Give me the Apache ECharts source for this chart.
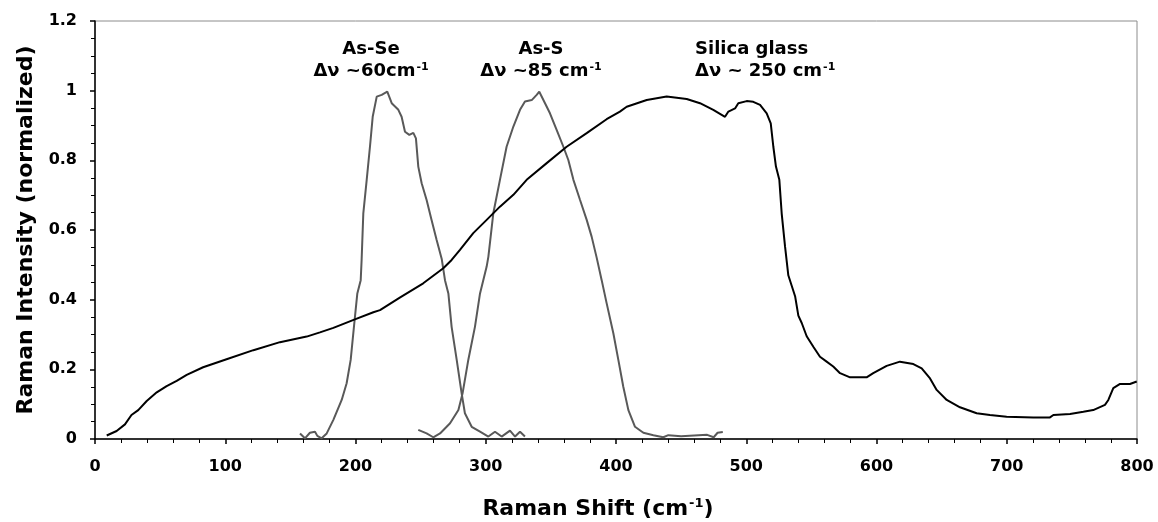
<!DOCTYPE html>
<html>
<head>
<meta charset="utf-8">
<script src="https://cdn.jsdelivr.net/npm/echarts@6/dist/echarts.min.js"></script>
<style>
html,body{margin:0;padding:0;background:#fff;}
#chart{width:1158px;height:522px;}
</style>
</head>
<body>
<div id="chart"></div>
<script>
// Silica glass Raman spectrum (black)
var silicaX = [9,16.6,23,28,33.2,39.7,47.4,55,62.7,70.4,83,101,121.6,142,162.5,172.7,183,200,213.7,218.8,234,252,267.4,273.8,280.2,290.4,300.7,310.9,321.2,331.4,346.8,362.1,377.5,392.8,403,408.2,423.6,438.9,454.3,464.5,474.7,483.7,486.3,491.4,493.9,500.3,505.4,510.6,515.7,518.8,520.8,522.8,525.4,527.2,529.8,532.3,534.9,537.5,540,542.6,546.4,551.5,556.6,561.7,566.8,572,579.7,592.4,597.5,607.8,618,628.3,634.7,641.1,646.2,653.9,664.1,676.9,687.1,699.9,720.4,733.2,735.8,748.6,758.8,766.4,775.4,778,781.8,787,794.6,799.8];
var silicaY = [0.01,0.023,0.042,0.069,0.083,0.109,0.134,0.152,0.167,0.184,0.206,0.229,0.255,0.278,0.294,0.306,0.319,0.344,0.364,0.370,0.406,0.447,0.49,0.514,0.543,0.591,0.629,0.667,0.701,0.744,0.792,0.839,0.878,0.918,0.94,0.954,0.973,0.983,0.976,0.964,0.945,0.925,0.94,0.949,0.964,0.970,0.968,0.959,0.935,0.906,0.839,0.782,0.744,0.648,0.552,0.47,0.44,0.41,0.354,0.333,0.295,0.265,0.236,0.222,0.208,0.189,0.177,0.177,0.189,0.21,0.222,0.215,0.203,0.174,0.141,0.112,0.091,0.074,0.069,0.064,0.062,0.062,0.069,0.072,0.078,0.083,0.098,0.112,0.146,0.158,0.158,0.165];

// As-Se Raman gain spectrum (grey)
var asSeX = [157.4,161.2,165,168.9,170.7,174,177.9,183,189.4,193.2,196.3,198.8,201.4,204,204.7,206,208.6,211.1,213.2,216.3,220.1,224.4,227.8,232.9,235.4,238,241.3,244.4,246.4,248.2,250.8,254.6,258.4,262.3,266.2,268.7,271.3,273.8,277.7,281.5,284,289.2,295.6,302,307.1,312.2,318.6,322.5,326.3,330.1];
var asSeY = [0.016,0.002,0.018,0.021,0.009,0.002,0.016,0.055,0.112,0.16,0.227,0.322,0.418,0.456,0.514,0.648,0.744,0.839,0.925,0.983,0.988,0.997,0.964,0.945,0.925,0.882,0.873,0.879,0.863,0.782,0.734,0.686,0.629,0.571,0.517,0.456,0.418,0.322,0.227,0.131,0.074,0.035,0.021,0.007,0.021,0.007,0.024,0.007,0.021,0.007];

// As-S Raman gain spectrum (grey)
var asSX = [248.2,254.6,259.7,264.9,272.6,279,282.2,286.6,291.7,295.6,300.7,302,305.8,310.9,316,321.2,326.3,330.1,335.3,339.1,341.1,345.5,349.3,354.5,359.6,363.4,367.3,372.4,377.5,381.3,385.2,389,392.8,398,401.8,405.6,409.5,414.6,421,428.7,436.3,440.2,450,460,470,475,478,482];
var asSY = [0.026,0.016,0.005,0.016,0.045,0.083,0.131,0.227,0.322,0.418,0.495,0.523,0.648,0.744,0.839,0.897,0.945,0.969,0.973,0.988,0.997,0.964,0.935,0.887,0.839,0.801,0.744,0.686,0.629,0.581,0.52,0.456,0.39,0.303,0.227,0.15,0.083,0.035,0.018,0.011,0.005,0.011,0.008,0.01,0.012,0.005,0.018,0.02];

var xTicks = {min:0, max:800, interval:100};
var yTicks = {min:0, max:1.2, interval:0.2};

function zip(xs, ys){ return xs.map(function(x,i){ return [x, ys[i]]; }); }

var FONT = '"DejaVu Sans", Arial, sans-serif';
var chart = echarts.init(document.getElementById('chart'), null, {renderer:'canvas'});

var annRich = {
  t: {fontFamily: FONT, fontWeight: 'bold', fontSize: 18, lineHeight: 22, fill: '#000', color:'#000'},
  s: {fontFamily: FONT, fontWeight: 'bold', fontSize: 11, lineHeight: 22, verticalAlign: 'top', color:'#000', padding:[2,0,0,1]}
};

function ann(x, y, align, l1, l2a){
  return {
    type: 'text', x: x, y: y, z: 100,
    style: {
      text: '{t|' + l1 + '}\n{t|' + l2a + '}{s|-1}',
      rich: annRich,
      textAlign: align, align: align,
      textVerticalAlign: 'top', verticalAlign: 'top',
      fill: '#000'
    }
  };
}

var option = {
  animation: false,
  backgroundColor: '#fff',
  grid: {left: 95, right: 21, top: 21, bottom: 83, show: true, borderColor: '#8c8c8c', borderWidth: 1, containLabel: false, outerBoundsMode: 'none'},
  xAxis: {
    type: 'value', min: xTicks.min, max: xTicks.max, interval: xTicks.interval,
    name: '{a|Raman Shift (cm}{s|-1}{a|)}', nameLocation: 'middle', nameGap: 57,
    nameTextStyle: {
      padding: [0, 36, 0, 0],
      rich: {
        a: {fontFamily: FONT, fontWeight: 'bold', fontSize: 22, lineHeight: 26, color: '#000'},
        s: {fontFamily: FONT, fontWeight: 'bold', fontSize: 13, lineHeight: 26, verticalAlign: 'top', color: '#000', padding:[1,0,0,1]}
      }
    },
    axisLine: {show: true, lineStyle: {color: '#000', width: 1.5}},
    axisTick: {show: true, inside: false, length: 5, lineStyle: {color: '#000', width: 1.5}},
    minorTick: {show: true, splitNumber: 5, length: 4, lineStyle: {color: '#000', width: 1}},
    splitLine: {show: false},
    axisLabel: {margin: 20, color: '#000', fontFamily: FONT, fontWeight: 'bold', fontSize: 16}
  },
  yAxis: {
    type: 'value', min: yTicks.min, max: yTicks.max, interval: yTicks.interval,
    name: 'Raman Intensity (normalized)', nameLocation: 'middle', nameRotate: 90, nameGap: 58,
    nameTextStyle: {fontFamily: FONT, fontWeight: 'bold', fontSize: 22, color: '#000'},
    axisLine: {show: true, lineStyle: {color: '#000', width: 1.5}},
    axisTick: {show: true, inside: false, length: 5, lineStyle: {color: '#000', width: 1.5}},
    minorTick: {show: true, splitNumber: 4, length: 4, lineStyle: {color: '#000', width: 1}},
    splitLine: {show: false},
    axisLabel: {margin: 18, color: '#000', fontFamily: FONT, fontWeight: 'bold', fontSize: 16}
  },
  graphic: [
    ann(371, 38, 'center', 'As-Se', 'Δν ~60cm'),
    ann(541, 38, 'center', 'As-S', 'Δν ~85 cm'),
    ann(695, 38, 'left', 'Silica glass', 'Δν ~ 250 cm')
  ],
  series: [
    {type: 'line', name: 'As-Se', data: zip(asSeX, asSeY), showSymbol: false, symbol: 'none', lineStyle: {color: '#595959', width: 2}, z: 2},
    {type: 'line', name: 'As-S', data: zip(asSX, asSY), showSymbol: false, symbol: 'none', lineStyle: {color: '#595959', width: 2}, z: 2},
    {type: 'line', name: 'Silica glass', data: zip(silicaX, silicaY), showSymbol: false, symbol: 'none', lineStyle: {color: '#000', width: 2}, z: 3}
  ]
};
chart.setOption(option);
</script>
</body>
</html>
